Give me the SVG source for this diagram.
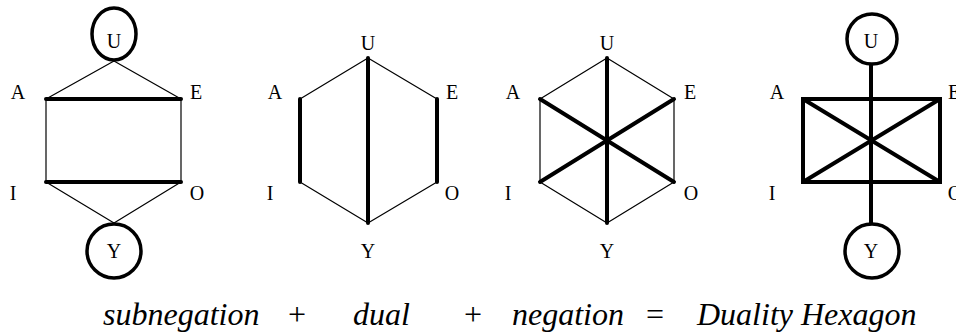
<svg xmlns="http://www.w3.org/2000/svg" width="956" height="335" viewBox="0 0 956 335">
<style>
.lbl{font-family:"Liberation Serif","Times New Roman",serif;font-size:20px;text-anchor:middle;fill:#000}
.cap{font-family:"Liberation Serif","Times New Roman",serif;font-size:32px;font-style:italic;fill:#000}
.op{font-family:"Liberation Serif","Times New Roman",serif;font-size:32px;text-anchor:middle;fill:#000}
.thin{stroke:#000;stroke-width:1.2;fill:none;stroke-linecap:round}
.thick{stroke:#000;stroke-width:4;fill:none;stroke-linecap:round}
.ring{stroke:#000;stroke-width:3.5;fill:#fff}
</style>
<rect width="956" height="335" fill="#fff"/>

<g id="edges">
  <line class="thin" x1="114" y1="61" x2="46" y2="99"/>
  <line class="thin" x1="114" y1="61" x2="181" y2="99"/>
  <line class="thin" x1="46" y1="99" x2="46" y2="182"/>
  <line class="thin" x1="181" y1="99" x2="181" y2="182"/>
  <line class="thin" x1="46" y1="182" x2="114" y2="223"/>
  <line class="thin" x1="181" y1="182" x2="114" y2="223"/>
  <line class="thick" x1="46" y1="99" x2="181" y2="99"/>
  <line class="thick" x1="46" y1="182" x2="181" y2="182"/>
  <line class="thin" x1="368" y1="58" x2="300" y2="99"/>
  <line class="thin" x1="368" y1="58" x2="437" y2="99"/>
  <line class="thin" x1="300" y1="182" x2="368" y2="223"/>
  <line class="thin" x1="437" y1="182" x2="368" y2="223"/>
  <line class="thick" x1="300" y1="99" x2="300" y2="182"/>
  <line class="thick" x1="437" y1="99" x2="437" y2="182"/>
  <line class="thick" x1="368" y1="58" x2="368" y2="223"/>
  <line class="thin" x1="607" y1="58" x2="540" y2="99"/>
  <line class="thin" x1="607" y1="58" x2="674" y2="99"/>
  <line class="thin" x1="540" y1="99" x2="540" y2="182"/>
  <line class="thin" x1="674" y1="99" x2="674" y2="182"/>
  <line class="thin" x1="540" y1="182" x2="607" y2="223"/>
  <line class="thin" x1="674" y1="182" x2="607" y2="223"/>
  <line class="thick" x1="607" y1="58" x2="607" y2="223"/>
  <line class="thick" x1="540" y1="99" x2="674" y2="182"/>
  <line class="thick" x1="674" y1="99" x2="540" y2="182"/>
  <line class="thick" x1="871" y1="64" x2="871" y2="224"/>
  <rect class="thick" x="803" y="99" width="137" height="83" stroke-linejoin="miter"/>
  <line class="thick" x1="803" y1="99" x2="940" y2="182"/>
  <line class="thick" x1="940" y1="99" x2="803" y2="182"/>
</g>

<g id="d1-U"><ellipse class="ring" cx="114" cy="34" rx="22" ry="26"/><text class="lbl" x="114" y="48">U</text></g>
<g id="d1-Y"><circle class="ring" cx="114" cy="251" r="27"/><text class="lbl" x="114" y="258">Y</text></g>
<g id="d1-A"><text class="lbl" x="18" y="99">A</text></g>
<g id="d1-E"><text class="lbl" x="196" y="99">E</text></g>
<g id="d1-I"><text class="lbl" x="13" y="200">I</text></g>
<g id="d1-O"><text class="lbl" x="197" y="200">O</text></g>

<g id="d2-U"><text class="lbl" x="368" y="50">U</text></g>
<g id="d2-Y"><text class="lbl" x="368" y="258">Y</text></g>
<g id="d2-A"><text class="lbl" x="275" y="99">A</text></g>
<g id="d2-E"><text class="lbl" x="452" y="99">E</text></g>
<g id="d2-I"><text class="lbl" x="270" y="200">I</text></g>
<g id="d2-O"><text class="lbl" x="452" y="200">O</text></g>

<g id="d3-U"><text class="lbl" x="607" y="50">U</text></g>
<g id="d3-Y"><text class="lbl" x="607" y="258">Y</text></g>
<g id="d3-A"><text class="lbl" x="513" y="99">A</text></g>
<g id="d3-E"><text class="lbl" x="690" y="99">E</text></g>
<g id="d3-I"><text class="lbl" x="508" y="200">I</text></g>
<g id="d3-O"><text class="lbl" x="691" y="200">O</text></g>

<g id="d4-U"><circle class="ring" cx="872" cy="39" r="25"/><text class="lbl" x="871" y="48">U</text></g>
<g id="d4-Y"><circle class="ring" cx="872" cy="251" r="27"/><text class="lbl" x="871" y="258">Y</text></g>
<g id="d4-A"><text class="lbl" x="777" y="99">A</text></g>
<g id="d4-E"><text class="lbl" x="954" y="99">E</text></g>
<g id="d4-I"><text class="lbl" x="772" y="200">I</text></g>
<g id="d4-O"><text class="lbl" x="955" y="200">O</text></g>

<g id="caption">
  <text class="cap" x="103" y="325">subnegation</text>
  <text class="op" x="297" y="325">+</text>
  <text class="cap" x="353" y="325">dual</text>
  <text class="op" x="473" y="325">+</text>
  <text class="cap" x="512" y="325">negation</text>
  <text class="op" x="655" y="325">=</text>
  <text class="cap" x="697" y="325">Duality Hexagon</text>
</g>
</svg>
